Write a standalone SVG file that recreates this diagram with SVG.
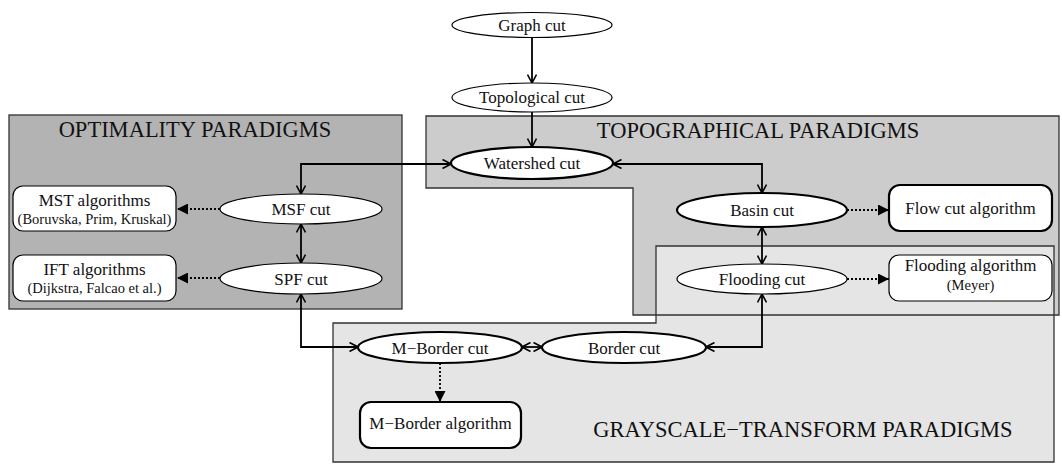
<svg xmlns="http://www.w3.org/2000/svg" width="1062" height="465" viewBox="0 0 1062 465">
<style>
text{font-family:"Liberation Serif","Times New Roman",serif;fill:#111;text-anchor:middle}
.n{font-size:17px}
.s{font-size:14.5px}
.t{font-size:22.5px}
.node{fill:#fff;stroke:#000;stroke-width:1.2}
.bold{fill:#fff;stroke:#000;stroke-width:2.2}
.c{fill:none;stroke:#000;stroke-width:1.8}
.d{fill:none;stroke:#000;stroke-width:1.8;stroke-dasharray:2 2}
.reg{stroke:#333;stroke-width:1.3}
</style>
<defs>
<marker id="open" viewBox="0 0 10 10" refX="9.5" refY="5" markerWidth="10" markerHeight="10" markerUnits="userSpaceOnUse" orient="auto-start-reverse">
<path d="M1,0.5 L9.5,5 L1,9.5" fill="none" stroke="#000" stroke-width="1.6"/>
</marker>
<marker id="fill" viewBox="0 0 10 10" refX="10" refY="5" markerWidth="11" markerHeight="11" markerUnits="userSpaceOnUse" orient="auto">
<path d="M0,0 L10,5 L0,10 z" fill="#000"/>
</marker>
</defs>

<g id="regions">
<rect id="optimality-region" class="reg" x="9" y="115" width="393" height="194" fill="#b3b3b3"/>
<path id="topographical-fill" d="M426,116 H1059 V315 H633 V188 H426 Z" fill="#cccccc"/>
<path id="grayscale-region" class="reg" d="M656,246 H1054 V462 H333 V323 H656 Z" fill="#e5e5e5"/>
<path id="topographical-border" class="reg" d="M426,116 H1059 V315 H633 V188 H426 Z" fill="none"/>
<text class="t" x="195" y="137">OPTIMALITY PARADIGMS</text>
<text class="t" x="758" y="138">TOPOGRAPHICAL PARADIGMS</text>
<text class="t" x="803" y="437">GRAYSCALE−TRANSFORM PARADIGMS</text>
</g>

<g id="connectors">
<path class="c" d="M532,38 V83" marker-end="url(#open)"/>
<path class="c" d="M532,112 V147" marker-end="url(#open)"/>
<path class="c" d="M301,194 V164 H451" marker-start="url(#open)" marker-end="url(#open)"/>
<path class="c" d="M613,164 H762 V193" marker-start="url(#open)" marker-end="url(#open)"/>
<path class="c" d="M762,227 V264" marker-start="url(#open)" marker-end="url(#open)"/>
<path class="c" d="M762,294 V347 H706" marker-start="url(#open)" marker-end="url(#open)"/>
<path class="c" d="M301,224 V263" marker-start="url(#open)" marker-end="url(#open)"/>
<path class="c" d="M301,294 V347 H358" marker-start="url(#open)" marker-end="url(#open)"/>
<path class="c" d="M522,347 H542" marker-start="url(#open)" marker-end="url(#open)"/>
<path class="d" d="M220,209 H177" marker-end="url(#fill)"/>
<path class="d" d="M220,278 H177" marker-end="url(#fill)"/>
<path class="d" d="M847,210 H889" marker-end="url(#fill)"/>
<path class="d" d="M847,279 H889" marker-end="url(#fill)"/>
<path class="d" d="M440,363 V402" marker-end="url(#fill)"/>
</g>

<g id="graph-cut"><ellipse class="node" cx="532" cy="25" rx="80" ry="12.5"/><text class="n" x="532" y="31">Graph cut</text></g>
<g id="topological-cut"><ellipse class="node" cx="532" cy="97.5" rx="80" ry="14.5"/><text class="n" x="532" y="103">Topological cut</text></g>
<g id="watershed-cut"><ellipse class="bold" cx="532" cy="163" rx="81" ry="16"/><text class="n" x="532" y="169">Watershed cut</text></g>
<g id="msf-cut"><ellipse class="node" cx="301" cy="209" rx="81" ry="15"/><text class="n" x="301" y="215">MSF cut</text></g>
<g id="spf-cut"><ellipse class="node" cx="301" cy="278.5" rx="81" ry="15.5"/><text class="n" x="301" y="284.5">SPF cut</text></g>
<g id="mst-algorithms"><rect class="node" x="13" y="186" width="163" height="45" rx="10"/><text class="n" x="94.5" y="206">MST algorithms</text><text class="s" x="94.5" y="224">(Boruvska, Prim, Kruskal)</text></g>
<g id="ift-algorithms"><rect class="node" x="13" y="255" width="163" height="46" rx="10"/><text class="n" x="94.5" y="275">IFT algorithms</text><text class="s" x="94.5" y="293">(Dijkstra, Falcao et al.)</text></g>
<g id="basin-cut"><ellipse class="bold" cx="762" cy="210" rx="85" ry="17"/><text class="n" x="762" y="216">Basin cut</text></g>
<g id="flow-cut-algorithm"><rect class="bold" x="889" y="185" width="163" height="46" rx="11"/><text class="n" x="970.5" y="214">Flow cut algorithm</text></g>
<g id="flooding-cut"><ellipse class="node" cx="762" cy="279" rx="85" ry="15"/><text class="n" x="762" y="285">Flooding cut</text></g>
<g id="flooding-algorithm"><rect class="node" x="889" y="255" width="163" height="46" rx="10"/><text class="n" x="970.5" y="271">Flooding algorithm</text><text class="s" x="970.5" y="290">(Meyer)</text></g>
<g id="m-border-cut"><ellipse class="bold" cx="440" cy="347.5" rx="82" ry="15.5"/><text class="n" x="440" y="353.5">M−Border cut</text></g>
<g id="border-cut"><ellipse class="bold" cx="624" cy="347.5" rx="82" ry="15.5"/><text class="n" x="624" y="353.5">Border cut</text></g>
<g id="m-border-algorithm"><rect class="bold" x="360" y="402" width="161" height="46" rx="11"/><text class="n" x="440.5" y="429">M−Border algorithm</text></g>
</svg>
